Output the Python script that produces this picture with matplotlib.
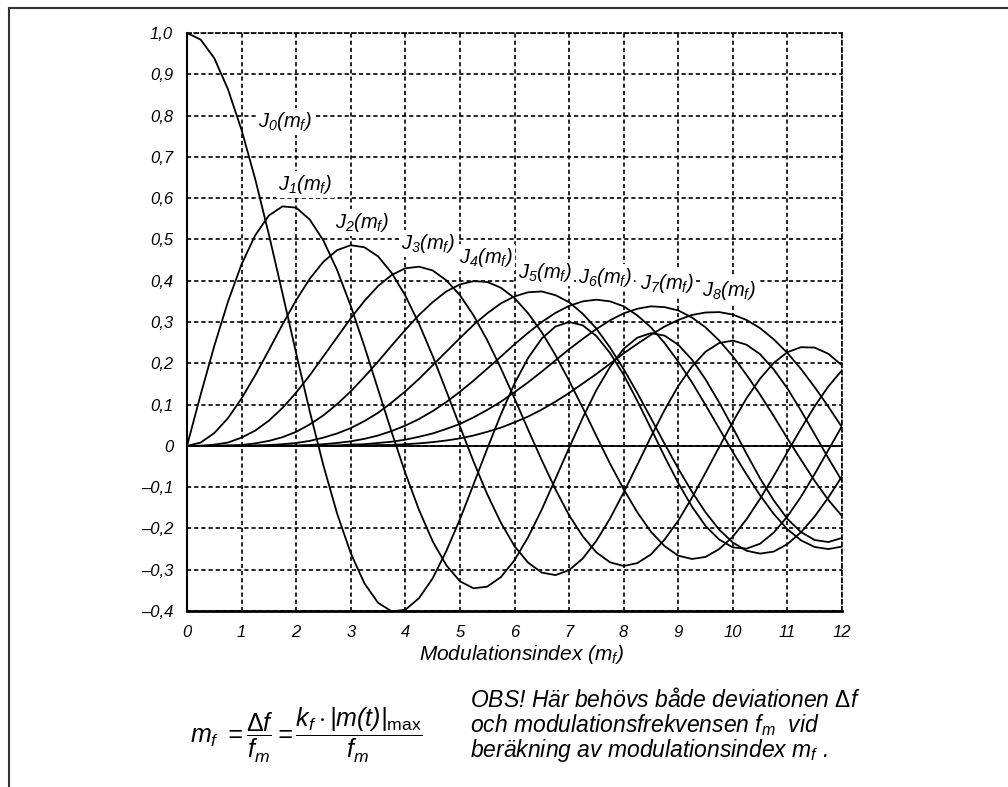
import numpy as np
import matplotlib
matplotlib.use("Agg")
import matplotlib.pyplot as plt
from matplotlib.lines import Line2D

plt.rcParams['font.family'] = ['Liberation Sans', 'DejaVu Sans']
plt.rcParams['mathtext.fontset'] = 'custom'
plt.rcParams['mathtext.it'] = 'Liberation Sans:italic'
plt.rcParams['mathtext.rm'] = 'Liberation Sans:italic'
plt.rcParams['mathtext.sf'] = 'Liberation Sans'

#--- values (step 0.25 in m_f)
mf = [0.0, 0.25, 0.5, 0.75, 1.0, 1.25, 1.5, 1.75, 2.0, 2.25,
      2.5, 2.75, 3.0, 3.25, 3.5, 3.75, 4.0, 4.25, 4.5, 4.75,
      5.0, 5.25, 5.5, 5.75, 6.0, 6.25, 6.5, 6.75, 7.0, 7.25,
      7.5, 7.75, 8.0, 8.25, 8.5, 8.75, 9.0, 9.25, 9.5, 9.75,
      10.0, 10.25, 10.5, 10.75, 11.0, 11.25, 11.5, 11.75, 12.0]

j0 = [1.000, 0.984, 0.939, 0.864, 0.765, 0.646, 0.512, 0.369, 0.224, 0.083,
      -0.048, -0.164, -0.260, -0.333, -0.380, -0.401, -0.397, -0.369, -0.321, -0.255,
      -0.178, -0.093, -0.007, 0.076, 0.151, 0.213, 0.260, 0.289, 0.300, 0.292,
      0.266, 0.225, 0.172, 0.109, 0.042, -0.026, -0.090, -0.147, -0.194, -0.227,
      -0.246, -0.249, -0.237, -0.210, -0.171, -0.123, -0.068, -0.010, 0.048]
j1 = [0.000, 0.124, 0.242, 0.349, 0.440, 0.510, 0.558, 0.580, 0.577, 0.548,
      0.497, 0.426, 0.339, 0.241, 0.137, 0.033, -0.066, -0.155, -0.231, -0.289,
      -0.328, -0.345, -0.341, -0.318, -0.277, -0.221, -0.154, -0.080, -0.005, 0.068,
      0.135, 0.191, 0.235, 0.262, 0.273, 0.267, 0.245, 0.209, 0.161, 0.105,
      0.044, -0.019, -0.079, -0.132, -0.177, -0.209, -0.228, -0.233, -0.223]
j2 = [0.000, 0.008, 0.031, 0.067, 0.115, 0.171, 0.232, 0.294, 0.353, 0.405,
      0.446, 0.474, 0.486, 0.481, 0.459, 0.419, 0.364, 0.296, 0.218, 0.133,
      0.047, -0.038, -0.117, -0.186, -0.243, -0.283, -0.307, -0.313, -0.301, -0.273,
      -0.230, -0.176, -0.113, -0.046, 0.022, 0.087, 0.145, 0.192, 0.228, 0.249,
      0.255, 0.245, 0.222, 0.185, 0.139, 0.085, 0.028, -0.030, -0.085]
j3 = [0.000, 0.000, 0.003, 0.008, 0.020, 0.037, 0.061, 0.092, 0.129, 0.171,
      0.217, 0.263, 0.309, 0.351, 0.387, 0.414, 0.430, 0.434, 0.425, 0.401,
      0.365, 0.316, 0.256, 0.188, 0.115, 0.039, -0.035, -0.105, -0.168, -0.219,
      -0.258, -0.282, -0.291, -0.284, -0.263, -0.227, -0.181, -0.126, -0.065, -0.003,
      0.058, 0.115, 0.163, 0.201, 0.227, 0.239, 0.238, 0.223, 0.195]
j4 = [0.000, 0.000, 0.000, 0.001, 0.002, 0.006, 0.012, 0.021, 0.034, 0.052,
      0.074, 0.101, 0.132, 0.167, 0.204, 0.243, 0.281, 0.317, 0.348, 0.374,
      0.391, 0.399, 0.397, 0.383, 0.358, 0.321, 0.275, 0.220, 0.158, 0.092,
      0.024, -0.043, -0.105, -0.161, -0.208, -0.243, -0.266, -0.274, -0.269, -0.250,
      -0.220, -0.178, -0.128, -0.073, -0.015, 0.042, 0.096, 0.144, 0.183]
j5 = [0.000, 0.000, 0.000, 0.000, 0.000, 0.001, 0.002, 0.004, 0.007, 0.012,
      0.020, 0.030, 0.043, 0.060, 0.080, 0.105, 0.132, 0.162, 0.195, 0.228,
      0.261, 0.293, 0.321, 0.345, 0.362, 0.372, 0.374, 0.365, 0.348, 0.320,
      0.284, 0.238, 0.186, 0.128, 0.067, 0.005, -0.055, -0.111, -0.161, -0.203,
      -0.234, -0.254, -0.261, -0.256, -0.238, -0.209, -0.171, -0.125, -0.074]
j6 = [0.000, 0.000, 0.000, 0.000, 0.000, 0.000, 0.000, 0.001, 0.001, 0.002,
      0.004, 0.007, 0.011, 0.017, 0.025, 0.036, 0.049, 0.065, 0.084, 0.106,
      0.131, 0.158, 0.187, 0.216, 0.246, 0.274, 0.300, 0.322, 0.339, 0.350,
      0.354, 0.350, 0.338, 0.316, 0.287, 0.249, 0.204, 0.154, 0.099, 0.042,
      -0.015, -0.069, -0.120, -0.165, -0.202, -0.229, -0.245, -0.250, -0.244]
j7 = [0.000, 0.000, 0.000, 0.000, 0.000, 0.000, 0.000, 0.000, 0.000, 0.000,
      0.001, 0.001, 0.003, 0.004, 0.007, 0.010, 0.015, 0.022, 0.030, 0.041,
      0.053, 0.069, 0.087, 0.107, 0.130, 0.154, 0.180, 0.207, 0.234, 0.259,
      0.283, 0.304, 0.321, 0.332, 0.338, 0.336, 0.328, 0.311, 0.287, 0.255,
      0.217, 0.172, 0.124, 0.072, 0.018, -0.034, -0.085, -0.131, -0.170]
j8 = [0.000, 0.000, 0.000, 0.000, 0.000, 0.000, 0.000, 0.000, 0.000, 0.000,
      0.000, 0.000, 0.000, 0.001, 0.002, 0.002, 0.004, 0.006, 0.009, 0.013,
      0.018, 0.025, 0.034, 0.044, 0.057, 0.071, 0.088, 0.107, 0.128, 0.151,
      0.174, 0.199, 0.224, 0.247, 0.269, 0.289, 0.305, 0.317, 0.323, 0.324,
      0.318, 0.305, 0.285, 0.258, 0.225, 0.186, 0.142, 0.095, 0.045]

curves = [j0, j1, j2, j3, j4, j5, j6, j7, j8]
curve_names = [r'$J_{%d}(m_f)$' % n for n in range(9)]

x_ticks = list(range(13))
x_labels = [str(t) for t in x_ticks]
y_ticks = [1.0, 0.9, 0.8, 0.7, 0.6, 0.5, 0.4, 0.3, 0.2, 0.1, 0.0,
           -0.1, -0.2, -0.3, -0.4]
y_labels = ['1,0', '0,9', '0,8', '0,7', '0,6', '0,5', '0,4', '0,3', '0,2',
            '0,1', '0', '\u20130,1', '\u20130,2', '\u20130,3', '\u20130,4']

# where the curve names sit (data coords)
name_pos = [(1.30, 0.786), (1.67, 0.633), (2.71, 0.541), (3.92, 0.490),
            (4.98, 0.456), (6.06, 0.420), (7.16, 0.408), (8.30, 0.393),
            (9.43, 0.376)]

W, H = 1008, 787
fig = plt.figure(figsize=(W / 100, H / 100), dpi=100)
ax = fig.add_axes([187 / W, 1 - 611 / H, 655 / W, 578 / H])

for vals in curves:
    ax.plot(mf, vals, color='black', lw=1.3, zorder=3)
ax.axhline(0, color='black', lw=1.3, zorder=3)

ax.set_xlim(0, 12)
ax.set_ylim(-0.4, 1.0)
ax.set_xticks(x_ticks)
ax.set_xticklabels(x_labels)
ax.set_yticks(y_ticks)
ax.set_yticklabels(y_labels)
ax.tick_params(length=0, labelsize=12, pad=10)
for lab in ax.get_xticklabels() + ax.get_yticklabels():
    lab.set_fontstyle('italic')

dash = (0, (2.5, 1.8))
ax.set_axisbelow(True)
ax.grid(True, color='black', linestyle=dash, linewidth=1.2)
for s in ['top', 'right']:
    ax.spines[s].set_linestyle(dash)
    ax.spines[s].set_linewidth(1.2)
ax.spines['left'].set_linewidth(1.5)
ax.spines['bottom'].set_linewidth(2.0)

for name, (px, py) in zip(curve_names, name_pos):
    ax.text(px, py, name, fontsize=14.5, ha='left', va='center', zorder=2,
            bbox=dict(facecolor='white', edgecolor='none', pad=1.5))

fig.text(521 / W, 1 - 655 / H, 'Modulationsindex ($m_f$)', fontsize=15,
         style='italic', ha='center', va='center')

fig.text(306 / W, 1 - 735 / H,
         r'$m_f\ = \dfrac{\mathsf{\Delta} f}{f_m} = \dfrac{k_f \cdot |m(t)|_{\mathsf{max}}}{f_m}$',
         fontsize=18, ha='center', va='center')

obs = ['OBS! Här behövs både deviationen $\\mathsf{\\Delta}f$',
       'och modulationsfrekvensen $f_m$  vid',
       'beräkning av modulationsindex $m_f$ .']
for i, line in enumerate(obs):
    fig.text(470 / W, 1 - (707 + 25 * i) / H, line, fontsize=16.5,
             style='italic', ha='left', va='baseline')

# outer frame (top and left edge)
fig.add_artist(Line2D([9 / W, 1], [1 - 8 / H, 1 - 8 / H], color='#333333', lw=1.5))
fig.add_artist(Line2D([9 / W, 9 / W], [0, 1 - 8 / H], color='#333333', lw=1.5))

fig.savefig('out.png', dpi=100)
